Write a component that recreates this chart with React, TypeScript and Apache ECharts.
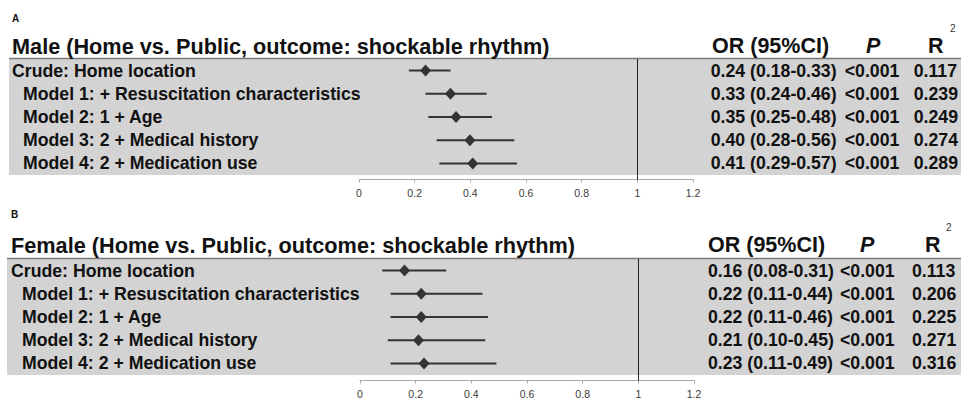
import React, { useEffect, useRef } from 'react';
import * as echarts from 'echarts';

// ---------- data ----------
const categories = [
  'Crude: Home location',
  'Model 1: + Resuscitation characteristics',
  'Model 2: 1 + Age',
  'Model 3: 2 + Medical history',
  'Model 4: 2 + Medication use',
];

const maleTitle = 'Male (Home vs. Public, outcome: shockable rhythm)';
const maleOR = [0.24, 0.33, 0.35, 0.4, 0.41];
const maleLow = [0.18, 0.24, 0.25, 0.28, 0.29];
const maleHigh = [0.33, 0.46, 0.48, 0.56, 0.57];
const maleP = ['<0.001', '<0.001', '<0.001', '<0.001', '<0.001'];
const maleR2 = ['0.117', '0.239', '0.249', '0.274', '0.289'];

const femaleTitle = 'Female (Home vs. Public, outcome: shockable rhythm)';
const femaleOR = [0.16, 0.22, 0.22, 0.21, 0.23];
const femaleLow = [0.08, 0.11, 0.11, 0.1, 0.11];
const femaleHigh = [0.31, 0.44, 0.46, 0.45, 0.49];
const femaleP = ['<0.001', '<0.001', '<0.001', '<0.001', '<0.001'];
const femaleR2 = ['0.113', '0.206', '0.225', '0.271', '0.316'];

const panelLetters = ['A', 'B'];
const headerOR = 'OR (95%CI)';
const headerP = 'P';
const headerR = 'R';
const headerR2sup = '2';
const axisMin = 0;
const axisMax = 1.2;
const axisStep = 0.2;
const referenceOR = 1;

// ---------- styling ----------
const FONT = "'Liberation Sans', Arial, Helvetica, sans-serif";
const TEXT = '#111111';
const MARK = '#333333';
const BG = '#d3d3d3';

type PanelData = {
  letter: string;
  title: string;
  or: number[];
  low: number[];
  high: number[];
  p: string[];
  r2: string[];
};

type Layout = {
  dy: number;
  left: number;
  right: number;
  bgX: number;
  labelX: number;
  orX: number;
  pX: number;
  rX: number;
  supX: number;
  supY: number;
  letterX: number;
  axisExtra: number;
};

const panels: PanelData[] = [
  { letter: panelLetters[0], title: maleTitle, or: maleOR, low: maleLow, high: maleHigh, p: maleP, r2: maleR2 },
  { letter: panelLetters[1], title: femaleTitle, or: femaleOR, low: femaleLow, high: femaleHigh, p: femaleP, r2: femaleR2 },
];

const layouts: Layout[] = [
  { dy: 0, left: 359, right: 268, bgX: 9, labelX: 12, orX: 712, pX: 866, rX: 928, supX: 950, supY: 28, letterX: 12, axisExtra: 0 },
  { dy: 200, left: 360, right: 267, bgX: 7, labelX: 11, orX: 708, pX: 860, rX: 925, supX: 946, supY: 227, letterX: 11, axisExtra: 1 },
];

function buildOption() {
  const grid: any[] = [];
  const xAxis: any[] = [];
  const yAxis: any[] = [];
  const series: any[] = [];
  const graphic: any[] = [];

  panels.forEach((pd, i) => {
    const L = layouts[i];
    const top = 59 + L.dy;
    const rowsH = 116;
    const axisH = 120.5 + L.axisExtra;

    // background + top border
    graphic.push({
      type: 'rect',
      z: -10,
      shape: { x: L.bgX, y: top, width: 961 - L.bgX, height: rowsH },
      style: { fill: BG },
      silent: true,
    });
    graphic.push({
      type: 'line',
      z: -5,
      shape: { x1: L.bgX, y1: top - 0.5, x2: 961, y2: top - 0.5 },
      style: { stroke: '#7a7a7a', lineWidth: 1.5 },
      silent: true,
    });
    // letter
    graphic.push({
      type: 'text',
      x: L.letterX,
      y: 18 + L.dy - (i === 1 ? 4 : 0),
      style: { text: pd.letter, font: `bold 10px ${FONT}`, fill: TEXT, verticalAlign: 'middle', align: 'left' },
    });
    // title
    const titleY = 46 + L.dy - (i === 1 ? 1 : 0);
    graphic.push({
      type: 'text',
      x: L.labelX,
      y: titleY,
      style: { text: pd.title, font: `bold 21.7px ${FONT}`, fill: TEXT, verticalAlign: 'middle', align: 'left' },
    });
    graphic.push({
      type: 'text',
      x: L.orX,
      y: titleY,
      style: { text: headerOR, font: `bold 21.5px ${FONT}`, fill: TEXT, verticalAlign: 'middle', align: 'left' },
    });
    graphic.push({
      type: 'text',
      x: L.pX,
      y: titleY,
      style: { text: headerP, font: `italic bold 21.5px ${FONT}`, fill: TEXT, verticalAlign: 'middle', align: 'left' },
    });
    graphic.push({
      type: 'text',
      x: L.rX,
      y: titleY,
      style: { text: headerR, font: `bold 21.5px ${FONT}`, fill: TEXT, verticalAlign: 'middle', align: 'left' },
    });
    graphic.push({
      type: 'text',
      x: L.supX,
      y: L.supY,
      style: { text: headerR2sup, font: `10px ${FONT}`, fill: '#333', verticalAlign: 'middle', align: 'left' },
    });

    // grids
    const gRows = grid.length;
    grid.push({ left: L.left, right: L.right, top, height: rowsH, containLabel: false });
    const gAxis = grid.length;
    grid.push({ left: L.left, right: L.right, top, height: axisH, containLabel: false });

    // x axes
    const xRows = xAxis.length;
    xAxis.push({
      type: 'value', gridIndex: gRows, min: axisMin, max: axisMax, interval: axisStep, show: false,
    });
    const xAx = xAxis.length;
    xAxis.push({
      type: 'value',
      gridIndex: gAxis,
      min: axisMin,
      max: axisMax,
      interval: axisStep,
      position: 'bottom',
      splitLine: { show: false },
      axisLine: { show: true, lineStyle: { color: '#a8a8a8', width: 1 } },
      axisTick: { show: true, length: 3, lineStyle: { color: '#a8a8a8' } },
      axisLabel: { fontSize: 10.5, color: '#3a3a3a', fontFamily: FONT, margin: 8 },
    });

    // y axes
    const labelStyle = { fontSize: 17.7, fontWeight: 'bold', color: TEXT, fontFamily: FONT };
    const yRows = yAxis.length;
    yAxis.push({
      type: 'category',
      gridIndex: gRows,
      inverse: true,
      data: categories,
      axisLine: { show: false },
      axisTick: { show: false },
      splitLine: { show: false },
      axisLabel: {
        interval: 0,
        align: 'left',
        margin: L.left - L.labelX,
        formatter: (v: string, idx: number) => (idx === 0 ? `{c|${v}}` : `{m|${v}}`),
        rich: {
          c: { ...labelStyle },
          m: { ...labelStyle, padding: [0, 0, 0, 11] },
        },
        ...labelStyle,
      },
    });
    const orTexts = pd.or.map((v, k) => `${v.toFixed(2)} (${pd.low[k].toFixed(2)}-${pd.high[k].toFixed(2)})`);
    const rightCols: [string[], number][] = [
      [orTexts, L.orX],
      [pd.p, L.pX - 20],
      [pd.r2, L.rX - 13],
    ];
    rightCols.forEach(([data, x]) => {
      yAxis.push({
        type: 'category',
        gridIndex: gRows,
        position: 'right',
        inverse: true,
        data,
        axisLine: { show: false },
        axisTick: { show: false },
        splitLine: { show: false },
        axisLabel: { interval: 0, align: 'left', margin: x - (961 - L.right), ...labelStyle },
      });
    });
    const yAx = yAxis.length;
    yAxis.push({ type: 'value', gridIndex: gAxis, min: 0, max: 1, show: false });

    // CI lines
    series.push({
      type: 'custom',
      xAxisIndex: xRows,
      yAxisIndex: yRows,
      silent: true,
      data: pd.or.map((_, k) => [k, pd.low[k], pd.high[k]]),
      encode: { x: [1, 2], y: 0 },
      renderItem: (params: any, api: any) => {
        const c = api.value(0);
        const p1 = api.coord([api.value(1), c]);
        const p2 = api.coord([api.value(2), c]);
        return {
          type: 'line',
          shape: { x1: p1[0], y1: p1[1], x2: p2[0], y2: p2[1] },
          style: { stroke: MARK, lineWidth: 2 },
        };
      },
      z: 3,
    });
    // point estimates
    series.push({
      type: 'scatter',
      xAxisIndex: xRows,
      yAxisIndex: yRows,
      symbol: 'diamond',
      symbolSize: [11, 12],
      itemStyle: { color: MARK, opacity: 1 },
      data: pd.or.map((v, k) => [v, k]),
      silent: true,
      z: 4,
    });
    // reference line at OR = 1
    series.push({
      type: 'scatter',
      xAxisIndex: xAx,
      yAxisIndex: yAx,
      data: [],
      silent: true,
      markLine: {
        silent: true,
        symbol: 'none',
        label: { show: false },
        lineStyle: { color: '#222', width: 1, type: 'solid' },
        data: [{ xAxis: referenceOR }],
      },
      z: 2,
    });
  });

  return {
    animation: false,
    backgroundColor: '#ffffff',
    textStyle: { fontFamily: FONT },
    grid,
    xAxis,
    yAxis,
    series,
    graphic,
  };
}

export default function App() {
  const ref = useRef<HTMLDivElement>(null);
  useEffect(() => {
    if (!ref.current) return;
    const chart = echarts.init(ref.current, undefined, { renderer: 'svg' });
    chart.setOption(buildOption() as any);
    return () => chart.dispose();
  }, []);
  return (
    <div
      ref={ref}
      style={{ position: 'fixed', left: 0, top: 0, width: 961, height: 401, background: '#fff' }}
    />
  );
}
